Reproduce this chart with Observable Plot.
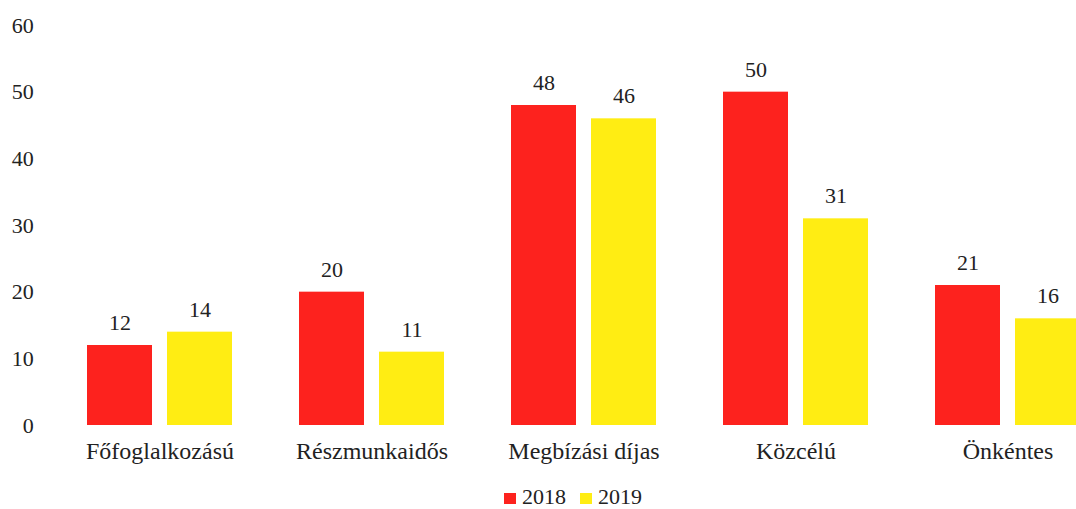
<!DOCTYPE html>
<html><head><meta charset="utf-8">
<script src="https://cdn.jsdelivr.net/npm/d3@7"></script>
<script src="https://cdn.jsdelivr.net/npm/@observablehq/plot@0.6"></script>
<style>
html,body{margin:0;padding:0;background:#fff;overflow:hidden;font-family:"Liberation Serif","Times New Roman",serif;}
#chart svg{overflow:hidden;display:block;}
#legend{position:absolute;left:35px;width:1076px;top:486px;height:22px;line-height:22px;display:flex;justify-content:center;align-items:center;font-size:22px;color:#222;}
#legend .item{display:flex;align-items:center;margin:0 7px;}
#legend .sw{width:12px;height:11px;margin-right:6px;margin-top:2px;}
</style>
</head><body>
<div id="chart"></div>
<div id="legend"></div>
<script>
const categories = ["Főfoglalkozású", "Részmunkaidős", "Megbízási díjas", "Közcélú", "Önkéntes"];
const years = ["2018", "2019"];
const values2018 = [12, 20, 48, 50, 21];
const values2019 = [14, 11, 46, 31, 16];
const yTicks = [0, 10, 20, 30, 40, 50, 60];
const colors = ["#fd221e", "#ffed13"];

const data = categories.flatMap((c, i) => [
  {category: c, year: years[0], value: values2018[i]},
  {category: c, year: years[1], value: values2019[i]}
]);

const plot = Plot.plot({
  width: 1076,
  height: 478,
  marginTop: 25,
  marginBottom: 53,
  marginLeft: 52,
  marginRight: 0,
  style: {fontFamily: '"Liberation Serif", "Times New Roman", serif', fontSize: "22px", color: "#222", background: "#fff", overflow: "hidden"},
  fx: {domain: categories, range: [52, 1114.5], paddingInner: 0.308, paddingOuter: 0.154, label: null},
  x: {domain: years, paddingInner: 0.185, paddingOuter: 0, axis: null},
  y: {domain: [0, 60], label: null},
  color: {domain: years, range: colors},
  marks: [
    Plot.axisY({ticks: yTicks, tickSize: 0, tickPadding: 52.7, label: null, fontSize: 22}),
    Plot.axisFx({anchor: "bottom", tickSize: 0, tickPadding: 16.5, label: null, fontSize: 24}),
    Plot.barY(data, {fx: "category", x: "year", y: "value", fill: "year"}),
    Plot.text(data, {fx: "category", x: "year", y: "value", text: d => String(d.value), dy: -22.5, fontSize: 22, fill: "#222"})
  ]
});
document.getElementById("chart").appendChild(plot);

const legend = document.getElementById("legend");
years.forEach((y, i) => {
  const item = document.createElement("div");
  item.className = "item";
  const sw = document.createElement("div");
  sw.className = "sw";
  sw.style.background = colors[i];
  const t = document.createElement("span");
  t.textContent = y;
  item.appendChild(sw);
  item.appendChild(t);
  legend.appendChild(item);
});
</script>
</body></html>
